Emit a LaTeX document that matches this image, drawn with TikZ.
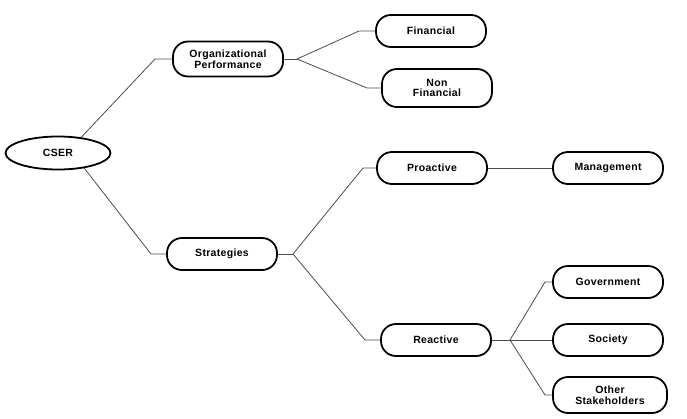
\documentclass[tikz,border=0pt]{standalone}
\usepackage{fontspec}
\setmainfont{Liberation Sans}[LetterSpace=3]
\usepackage{tikz}
\usetikzlibrary{positioning,shapes.geometric}

\begin{document}
\begin{tikzpicture}[
    x=1pt, y=-1pt,
    pill/.style={rectangle, rounded corners=15pt, draw=black, line width=1.8pt, fill=white, minimum width=110pt, minimum height=32pt, inner sep=2pt, align=center, font=\fontsize{10.5}{10.5}\selectfont\bfseries},
    root/.style={ellipse, draw=black, line width=1.8pt, minimum width=105pt, minimum height=33pt, inner sep=1pt, font=\fontsize{10.5}{10.5}\selectfont\bfseries},
    link/.style={draw=black!70, line width=0.8pt}
]
\useasboundingbox (0,0) rectangle (687,418);

\node[root] (cser) at (58,153) {CSER};
\node[pill, minimum height=35pt] (org) at (228,59) {Organizational\\Performance};
\node[pill] (str) at (222,254) {Strategies};
\node[pill] (fin) at (431,31) {Financial};
\node[pill, minimum height=38pt] (non) at (437,88) {Non\\Financial};
\node[pill] (pro) at (432,168) {Proactive};
\node[pill] (mgmt) at (608,168) {Management};
\node[pill] (rea) at (436,340) {Reactive};
\node[pill] (gov) at (608,282) {Government};
\node[pill] (soc) at (608,340) {Society};
\node[pill, minimum width=114pt, minimum height=36pt] (oth) at (610,395) {Other\\Stakeholders};

\coordinate (jorg) at (155,59);
\coordinate (jstr) at (151,254);
\coordinate (osplit) at (297,59);
\coordinate (jfin) at (359,31);
\coordinate (jnon) at (367,88);
\coordinate (ssplit) at (293,254);
\coordinate (jpro) at (363,168);
\coordinate (jrea) at (365,340);
\coordinate (rsplit) at (510,340);
\coordinate (jgov) at (545,282);
\coordinate (joth) at (545,395);

\draw[link] (cser.34) -- (jorg) -- (org.west);
\draw[link] (cser.-30) -- (jstr) -- (str.west);
\draw[link] (org.east) -- (osplit);
\draw[link] (osplit) -- (jfin) -- (fin.west);
\draw[link] (osplit) -- (jnon) -- (non.west);
\draw[link] (str.east) -- (ssplit);
\draw[link] (ssplit) -- (jpro) -- (pro.west);
\draw[link] (ssplit) -- (jrea) -- (rea.west);
\draw[link] (pro.east) -- (mgmt.west);
\draw[link] (rea.east) -- (rsplit);
\draw[link] (rsplit) -- (jgov) -- (gov.west);
\draw[link] (rsplit) -- (soc.west);
\draw[link] (rsplit) -- (joth) -- (oth.west);
\end{tikzpicture}
\end{document}
